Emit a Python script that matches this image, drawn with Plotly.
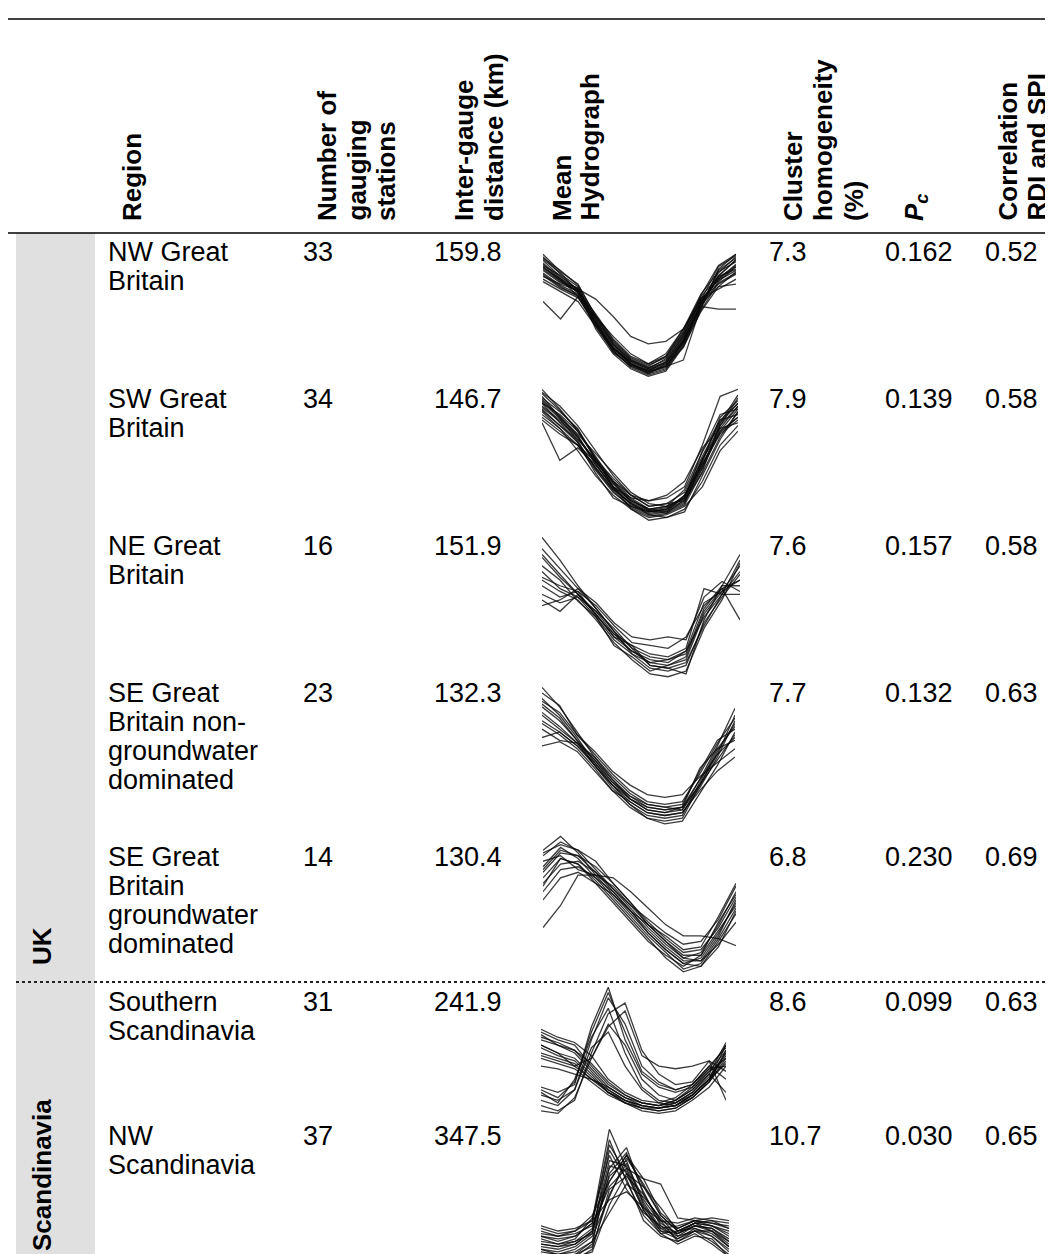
import plotly.graph_objects as go

W, H = 1053, 1254

# ---------------- table data ----------------
regions = [["NW Great", "Britain"],
           ["SW Great", "Britain"],
           ["NE Great", "Britain"],
           ["SE Great", "Britain non-", "groundwater", "dominated"],
           ["SE Great", "Britain", "groundwater", "dominated"],
           ["Southern", "Scandinavia"],
           ["NW", "Scandinavia"]]
n_stations = ["33", "34", "16", "23", "14", "31", "37"]
distance = ["159.8", "146.7", "151.9", "132.3", "130.4", "241.9", "347.5"]
homogeneity = ["7.3", "7.9", "7.6", "7.7", "6.8", "8.6", "10.7"]
pc = ["0.162", "0.139", "0.157", "0.132", "0.230", "0.099", "0.030"]
corr = ["0.52", "0.58", "0.58", "0.63", "0.69", "0.63", "0.65"]
groups = ["UK", "Scandinavia"]
headers = [["Region"], ["Number of", "gauging", "stations"], ["Inter-gauge", "distance (km)"],
           ["Mean", "Hydrograph"], ["Cluster", "homogeneity", "(%)"],
           ["<i>P</i><sub><i>c</i></sub>"], ["Correlation", "RDI and SPI"]]
months = list(range(1, 13))

# ---------------- hydrograph data (relative flow) ----------------
hydro_nw_gb = [
    [0.95, 0.82, 0.72, 0.48, 0.28, 0.14, 0.08, 0.12, 0.32, 0.60, 0.85, 0.98],
    [0.88, 0.78, 0.70, 0.45, 0.25, 0.12, 0.06, 0.14, 0.35, 0.62, 0.80, 0.92],
    [0.92, 0.80, 0.66, 0.42, 0.22, 0.10, 0.05, 0.10, 0.30, 0.58, 0.78, 0.90],
    [0.85, 0.75, 0.68, 0.50, 0.30, 0.16, 0.10, 0.18, 0.38, 0.66, 0.82, 0.88],
    [0.98, 0.84, 0.74, 0.46, 0.26, 0.12, 0.04, 0.08, 0.28, 0.56, 0.88, 1.00],
    [0.80, 0.72, 0.65, 0.44, 0.24, 0.14, 0.08, 0.16, 0.36, 0.64, 0.76, 0.84],
    [0.90, 0.79, 0.70, 0.52, 0.32, 0.18, 0.12, 0.20, 0.40, 0.68, 0.86, 0.94],
    [0.62, 0.48, 0.66, 0.50, 0.34, 0.20, 0.12, 0.18, 0.40, 0.65, 0.72, 0.80],
    [0.90, 0.80, 0.72, 0.64, 0.50, 0.34, 0.28, 0.30, 0.40, 0.62, 0.80, 0.90],
    [0.84, 0.74, 0.66, 0.44, 0.24, 0.12, 0.06, 0.10, 0.15, 0.58, 0.56, 0.56],
    [1.00, 0.86, 0.76, 0.50, 0.28, 0.12, 0.06, 0.10, 0.30, 0.60, 0.82, 0.96],
    [0.82, 0.76, 0.71, 0.40, 0.20, 0.08, 0.02, 0.06, 0.26, 0.54, 0.74, 0.86],
    [0.96, 0.85, 0.70, 0.47, 0.27, 0.15, 0.09, 0.13, 0.33, 0.63, 0.90, 0.99],
    [0.78, 0.70, 0.62, 0.42, 0.22, 0.10, 0.04, 0.12, 0.30, 0.60, 0.74, 0.76],
    [0.93, 0.81, 0.69, 0.44, 0.24, 0.11, 0.05, 0.09, 0.29, 0.57, 0.83, 0.95],
    [0.87, 0.77, 0.73, 0.49, 0.29, 0.15, 0.09, 0.15, 0.34, 0.64, 0.79, 0.87],
    [0.91, 0.83, 0.71, 0.47, 0.23, 0.09, 0.03, 0.07, 0.27, 0.59, 0.87, 0.97],
    [0.83, 0.73, 0.67, 0.43, 0.25, 0.13, 0.07, 0.13, 0.31, 0.61, 0.81, 0.91],
    [0.97, 0.87, 0.75, 0.51, 0.31, 0.17, 0.11, 0.17, 0.37, 0.67, 0.91, 1.00],
    [0.89, 0.79, 0.69, 0.45, 0.21, 0.11, 0.07, 0.11, 0.25, 0.55, 0.77, 0.85],
]
hydro_sw_gb = [
    [0.95, 0.80, 0.66, 0.48, 0.32, 0.20, 0.14, 0.16, 0.22, 0.45, 0.72, 0.88],
    [0.90, 0.76, 0.62, 0.44, 0.28, 0.18, 0.12, 0.14, 0.20, 0.40, 0.66, 0.84],
    [0.85, 0.74, 0.64, 0.50, 0.36, 0.24, 0.16, 0.18, 0.26, 0.52, 0.76, 0.90],
    [1.00, 0.86, 0.70, 0.52, 0.34, 0.22, 0.14, 0.12, 0.18, 0.48, 0.80, 0.92],
    [0.80, 0.70, 0.60, 0.42, 0.26, 0.16, 0.10, 0.12, 0.24, 0.50, 0.70, 0.80],
    [0.92, 0.80, 0.68, 0.54, 0.40, 0.26, 0.18, 0.16, 0.22, 0.56, 0.82, 0.86],
    [0.76, 0.49, 0.58, 0.46, 0.30, 0.20, 0.14, 0.16, 0.28, 0.55, 0.78, 0.82],
    [0.88, 0.78, 0.66, 0.46, 0.30, 0.18, 0.10, 0.08, 0.14, 0.34, 0.60, 0.74],
    [0.82, 0.72, 0.56, 0.38, 0.24, 0.14, 0.08, 0.10, 0.16, 0.30, 0.56, 0.70],
    [0.94, 0.84, 0.72, 0.50, 0.30, 0.22, 0.20, 0.22, 0.30, 0.60, 0.95, 1.00],
    [0.86, 0.74, 0.62, 0.40, 0.22, 0.16, 0.12, 0.14, 0.24, 0.46, 0.68, 0.78],
    [0.98, 0.88, 0.74, 0.56, 0.38, 0.24, 0.16, 0.18, 0.20, 0.44, 0.74, 0.94],
    [0.78, 0.68, 0.60, 0.48, 0.34, 0.24, 0.20, 0.24, 0.34, 0.58, 0.72, 0.76],
    [0.90, 0.82, 0.70, 0.50, 0.30, 0.14, 0.06, 0.08, 0.12, 0.38, 0.64, 0.84],
    [0.93, 0.81, 0.67, 0.47, 0.29, 0.17, 0.11, 0.13, 0.19, 0.43, 0.70, 0.86],
    [0.87, 0.77, 0.65, 0.49, 0.33, 0.21, 0.13, 0.15, 0.23, 0.49, 0.74, 0.88],
    [0.97, 0.85, 0.71, 0.51, 0.33, 0.19, 0.13, 0.11, 0.17, 0.41, 0.76, 0.96],
    [0.84, 0.72, 0.60, 0.44, 0.28, 0.18, 0.12, 0.14, 0.22, 0.50, 0.78, 0.90],
    [0.91, 0.79, 0.63, 0.43, 0.27, 0.15, 0.09, 0.11, 0.21, 0.47, 0.69, 0.80],
]
hydro_ne_gb = [
    [1.00, 0.84, 0.66, 0.50, 0.34, 0.22, 0.16, 0.14, 0.18, 0.50, 0.66, 0.88],
    [0.86, 0.72, 0.60, 0.46, 0.30, 0.20, 0.12, 0.10, 0.14, 0.46, 0.62, 0.80],
    [0.76, 0.64, 0.58, 0.44, 0.28, 0.18, 0.08, 0.06, 0.10, 0.40, 0.58, 0.74],
    [0.66, 0.58, 0.62, 0.52, 0.38, 0.26, 0.24, 0.22, 0.30, 0.52, 0.64, 0.70],
    [0.56, 0.48, 0.60, 0.48, 0.32, 0.24, 0.18, 0.16, 0.22, 0.64, 0.60, 0.60],
    [0.92, 0.78, 0.64, 0.54, 0.40, 0.30, 0.28, 0.30, 0.28, 0.58, 0.69, 0.62],
    [0.70, 0.62, 0.56, 0.42, 0.26, 0.14, 0.04, 0.02, 0.06, 0.36, 0.56, 0.82],
    [0.60, 0.54, 0.58, 0.48, 0.36, 0.22, 0.10, 0.08, 0.04, 0.42, 0.66, 0.66],
    [0.80, 0.70, 0.55, 0.44, 0.24, 0.16, 0.06, 0.10, 0.16, 0.48, 0.64, 0.42],
    [0.72, 0.66, 0.62, 0.45, 0.32, 0.20, 0.14, 0.12, 0.20, 0.44, 0.60, 0.76],
    [0.52, 0.56, 0.64, 0.50, 0.34, 0.18, 0.12, 0.14, 0.20, 0.54, 0.62, 0.70],
    [0.88, 0.74, 0.60, 0.46, 0.30, 0.24, 0.10, 0.08, 0.12, 0.38, 0.60, 0.84],
]
hydro_se_gb_ngw = [
    [1.00, 0.86, 0.68, 0.50, 0.34, 0.22, 0.14, 0.12, 0.14, 0.30, 0.52, 0.80],
    [0.92, 0.80, 0.64, 0.46, 0.30, 0.18, 0.10, 0.08, 0.10, 0.28, 0.50, 0.76],
    [0.86, 0.76, 0.62, 0.48, 0.34, 0.20, 0.12, 0.10, 0.12, 0.34, 0.58, 0.85],
    [0.80, 0.70, 0.60, 0.44, 0.28, 0.16, 0.08, 0.06, 0.08, 0.32, 0.56, 0.72],
    [0.74, 0.66, 0.56, 0.42, 0.26, 0.14, 0.06, 0.04, 0.06, 0.30, 0.48, 0.66],
    [0.96, 0.87, 0.66, 0.54, 0.40, 0.30, 0.23, 0.21, 0.23, 0.36, 0.46, 0.56],
    [0.70, 0.62, 0.60, 0.50, 0.36, 0.24, 0.16, 0.14, 0.16, 0.40, 0.62, 0.70],
    [0.64, 0.68, 0.58, 0.46, 0.32, 0.20, 0.12, 0.10, 0.14, 0.42, 0.56, 0.62],
    [0.58, 0.61, 0.54, 0.40, 0.26, 0.18, 0.10, 0.08, 0.10, 0.26, 0.40, 0.50],
    [0.88, 0.78, 0.62, 0.44, 0.30, 0.16, 0.06, 0.02, 0.04, 0.24, 0.44, 0.68],
    [0.82, 0.72, 0.60, 0.48, 0.32, 0.22, 0.16, 0.14, 0.12, 0.30, 0.54, 0.74],
    [0.90, 0.82, 0.66, 0.52, 0.38, 0.26, 0.18, 0.16, 0.18, 0.38, 0.60, 0.78],
    [0.76, 0.68, 0.58, 0.44, 0.30, 0.20, 0.14, 0.12, 0.14, 0.34, 0.52, 0.64],
]
hydro_se_gb_gw = [
    [0.90, 1.00, 0.88, 0.72, 0.58, 0.44, 0.30, 0.18, 0.08, 0.12, 0.30, 0.52],
    [0.86, 0.96, 0.90, 0.76, 0.62, 0.48, 0.34, 0.22, 0.12, 0.16, 0.36, 0.60],
    [0.78, 0.92, 0.84, 0.70, 0.56, 0.42, 0.28, 0.16, 0.04, 0.08, 0.26, 0.48],
    [0.74, 0.88, 0.86, 0.78, 0.66, 0.52, 0.38, 0.26, 0.16, 0.18, 0.34, 0.56],
    [0.70, 0.84, 0.80, 0.68, 0.54, 0.40, 0.26, 0.12, 0.02, 0.06, 0.24, 0.44],
    [0.66, 0.80, 0.82, 0.74, 0.62, 0.50, 0.40, 0.30, 0.22, 0.24, 0.40, 0.64],
    [0.60, 0.76, 0.78, 0.70, 0.60, 0.46, 0.32, 0.20, 0.10, 0.10, 0.22, 0.38],
    [0.54, 0.70, 0.74, 0.66, 0.58, 0.46, 0.36, 0.28, 0.18, 0.20, 0.42, 0.66],
    [0.34, 0.50, 0.72, 0.72, 0.64, 0.50, 0.36, 0.24, 0.14, 0.14, 0.32, 0.50],
    [0.82, 0.86, 0.76, 0.72, 0.70, 0.60, 0.48, 0.36, 0.28, 0.28, 0.26, 0.21],
    [0.88, 0.94, 0.90, 0.82, 0.66, 0.52, 0.36, 0.24, 0.12, 0.10, 0.28, 0.54],
    [0.76, 0.90, 0.86, 0.74, 0.60, 0.46, 0.30, 0.18, 0.08, 0.06, 0.20, 0.46],
    [0.64, 0.84, 0.80, 0.66, 0.52, 0.38, 0.24, 0.14, 0.06, 0.14, 0.38, 0.58],
]
hydro_s_scand = [
    [0.66, 0.60, 0.56, 0.40, 0.26, 0.18, 0.12, 0.10, 0.12, 0.20, 0.32, 0.50],
    [0.60, 0.56, 0.50, 0.36, 0.22, 0.14, 0.10, 0.08, 0.10, 0.18, 0.30, 0.56],
    [0.56, 0.50, 0.46, 0.34, 0.20, 0.12, 0.08, 0.06, 0.08, 0.16, 0.28, 0.46],
    [0.50, 0.46, 0.42, 0.30, 0.24, 0.16, 0.12, 0.10, 0.14, 0.22, 0.36, 0.52],
    [0.46, 0.42, 0.38, 0.28, 0.18, 0.12, 0.06, 0.04, 0.06, 0.14, 0.24, 0.40],
    [0.40, 0.38, 0.34, 0.30, 0.22, 0.14, 0.10, 0.08, 0.12, 0.20, 0.34, 0.58],
    [0.68, 0.62, 0.58, 0.48, 0.30, 0.20, 0.14, 0.12, 0.16, 0.26, 0.40, 0.54],
    [0.24, 0.20, 0.26, 0.70, 1.00, 0.60, 0.34, 0.24, 0.20, 0.24, 0.36, 0.46],
    [0.18, 0.14, 0.22, 0.60, 0.92, 0.72, 0.40, 0.28, 0.22, 0.26, 0.40, 0.30],
    [0.10, 0.06, 0.14, 0.50, 0.80, 0.88, 0.52, 0.34, 0.26, 0.28, 0.44, 0.14],
    [0.06, 0.04, 0.16, 0.46, 0.72, 0.56, 0.30, 0.18, 0.14, 0.22, 0.34, 0.20],
    [0.20, 0.12, 0.30, 0.62, 0.84, 0.50, 0.24, 0.14, 0.12, 0.18, 0.30, 0.42],
    [0.56, 0.50, 0.40, 0.46, 0.70, 0.82, 0.48, 0.40, 0.38, 0.40, 0.44, 0.36],
    [0.14, 0.10, 0.22, 0.54, 0.66, 0.40, 0.22, 0.12, 0.10, 0.16, 0.28, 0.52],
    [0.62, 0.58, 0.52, 0.38, 0.24, 0.16, 0.10, 0.08, 0.10, 0.18, 0.30, 0.48],
    [0.54, 0.48, 0.44, 0.32, 0.20, 0.14, 0.08, 0.08, 0.10, 0.18, 0.30, 0.50],
    [0.64, 0.56, 0.52, 0.42, 0.28, 0.18, 0.12, 0.10, 0.14, 0.24, 0.38, 0.56],
    [0.48, 0.44, 0.40, 0.30, 0.20, 0.12, 0.08, 0.06, 0.08, 0.16, 0.28, 0.44],
    [0.22, 0.16, 0.28, 0.66, 0.96, 0.66, 0.36, 0.26, 0.22, 0.26, 0.38, 0.40],
]
hydro_nw_scand = [
    [0.24, 0.20, 0.22, 0.30, 1.00, 0.70, 0.40, 0.24, 0.26, 0.30, 0.28, 0.26],
    [0.18, 0.16, 0.18, 0.28, 0.92, 0.60, 0.34, 0.20, 0.22, 0.28, 0.26, 0.22],
    [0.12, 0.10, 0.14, 0.24, 0.70, 0.86, 0.50, 0.30, 0.28, 0.32, 0.30, 0.24],
    [0.08, 0.06, 0.10, 0.20, 0.60, 0.80, 0.62, 0.36, 0.24, 0.30, 0.26, 0.18],
    [0.04, 0.02, 0.04, 0.10, 0.50, 0.74, 0.46, 0.28, 0.20, 0.26, 0.22, 0.12],
    [0.02, 0.00, 0.02, 0.06, 0.42, 0.66, 0.56, 0.40, 0.22, 0.24, 0.18, 0.08],
    [0.14, 0.12, 0.16, 0.32, 0.80, 0.54, 0.36, 0.26, 0.20, 0.26, 0.24, 0.16],
    [0.20, 0.18, 0.20, 0.26, 0.56, 0.70, 0.62, 0.58, 0.32, 0.30, 0.28, 0.24],
    [0.10, 0.08, 0.12, 0.22, 0.64, 0.76, 0.42, 0.22, 0.16, 0.24, 0.20, 0.10],
    [0.06, 0.04, 0.06, 0.14, 0.36, 0.58, 0.48, 0.32, 0.18, 0.22, 0.14, 0.04],
    [0.26, 0.22, 0.24, 0.30, 0.46, 0.52, 0.40, 0.30, 0.24, 0.30, 0.32, 0.30],
    [0.16, 0.12, 0.14, 0.20, 0.84, 0.62, 0.30, 0.18, 0.14, 0.22, 0.22, 0.14],
    [0.00, 0.00, 0.02, 0.12, 0.72, 0.68, 0.38, 0.20, 0.12, 0.18, 0.16, 0.02],
    [0.22, 0.18, 0.22, 0.34, 0.60, 0.80, 0.56, 0.34, 0.22, 0.28, 0.30, 0.28],
    [0.04, 0.02, 0.04, 0.14, 0.66, 0.82, 0.52, 0.26, 0.16, 0.22, 0.18, 0.06],
    [0.12, 0.10, 0.12, 0.22, 0.76, 0.72, 0.44, 0.24, 0.18, 0.26, 0.24, 0.14],
    [0.02, 0.00, 0.00, 0.08, 0.54, 0.64, 0.50, 0.30, 0.14, 0.20, 0.12, 0.02],
    [0.18, 0.14, 0.18, 0.28, 0.88, 0.66, 0.38, 0.22, 0.20, 0.28, 0.26, 0.20],
    [0.08, 0.04, 0.08, 0.18, 0.48, 0.78, 0.58, 0.34, 0.22, 0.28, 0.22, 0.10],
]
hydrographs = [hydro_nw_gb, hydro_sw_gb, hydro_ne_gb, hydro_se_gb_ngw,
               hydro_se_gb_gw, hydro_s_scand, hydro_nw_scand]

# ---------------- layout geometry (pixels) ----------------
TOP_RULE = 11
HEAD_RULE = 225
DOT_RULE = 974
HEAD_BASE = 215
row_top = [233, 380, 527, 674, 838, 983, 1117]
line_pitch = 29
col_x = [98, 293, 424, 759, 875, 975]          # region, n, dist, homog, pc, corr
head_x = [[107], [302, 332, 361], [439, 469], [537, 565], [768, 798, 829], [889], [983, 1012]]
panel_box = [(535, 728, 245, 372), (534, 730, 380, 522), (534, 732, 528, 673),
             (534, 727, 678, 820), (535, 728, 827, 968), (533, 718, 978, 1112),
             (533, 721, 1120, 1253)]
group_x = 17
group_bottom = [959, 1245]

FONT = "Liberation Sans, Arial, sans-serif"
BODY = 27
HEAD = 26


def fx(x):
    return x / W


def fy(y):
    return 1 - y / H


fig = go.Figure()
layout = dict(width=W, height=H, margin=dict(l=0, r=0, t=0, b=0),
              paper_bgcolor="white", plot_bgcolor="rgba(0,0,0,0)",
              showlegend=False)

for i, (lines, (x0, x1, y0, y1)) in enumerate(zip(hydrographs, panel_box), start=1):
    layout[f"xaxis{i}"] = dict(domain=[fx(x0), fx(x1)], range=[1, 12], visible=False,
                               anchor=f"y{i}", fixedrange=True)
    layout[f"yaxis{i}"] = dict(domain=[fy(y1), fy(y0)], range=[-0.01, 1.01], visible=False,
                               anchor=f"x{i}", fixedrange=True)
    for ln in lines:
        fig.add_trace(go.Scatter(x=months, y=ln, mode="lines", xaxis=f"x{i}", yaxis=f"y{i}",
                                 line=dict(color="rgba(10,10,10,0.8)", width=1.3),
                                 hoverinfo="skip"))

shapes = [
    dict(type="rect", xref="paper", yref="paper", x0=fx(8), x1=fx(87), y0=fy(H), y1=fy(HEAD_RULE),
         fillcolor="#e0e0e0", line=dict(width=0), layer="below"),
    dict(type="line", xref="paper", yref="paper", x0=0, x1=1, y0=fy(TOP_RULE), y1=fy(TOP_RULE),
         line=dict(color="black", width=1.5)),
    dict(type="line", xref="paper", yref="paper", x0=0, x1=1, y0=fy(HEAD_RULE), y1=fy(HEAD_RULE),
         line=dict(color="black", width=1.5)),
    dict(type="line", xref="paper", yref="paper", x0=fx(8), x1=1, y0=fy(DOT_RULE), y1=fy(DOT_RULE),
         line=dict(color="#222222", width=2, dash="dot")),
]

ann = []
# header (one rotated annotation per text line)
for lines_txt, xs in zip(headers, head_x):
    for txt, hx in zip(lines_txt, xs):
        ann.append(dict(text=f"<b>{txt}</b>", x=fx(hx), y=fy(HEAD_BASE), xref="paper", yref="paper",
                        xanchor="left", yanchor="bottom", textangle=-90,
                        showarrow=False, font=dict(family=FONT, size=HEAD, color="black")))
# body
for r in range(len(regions)):
    for k, part in enumerate(regions[r]):
        ann.append(dict(text=part, x=fx(col_x[0]), y=fy(row_top[r] - 6 + k * line_pitch),
                        xref="paper", yref="paper", xanchor="left", yanchor="top",
                        showarrow=False, font=dict(family=FONT, size=BODY, color="black")))
    for c, vals in enumerate([n_stations, distance, homogeneity, pc, corr], start=1):
        ann.append(dict(text=vals[r], x=fx(col_x[c]), y=fy(row_top[r] - 6),
                        xref="paper", yref="paper", xanchor="left", yanchor="top",
                        showarrow=False, font=dict(family=FONT, size=BODY, color="black")))
# groups
for g, gb in zip(groups, group_bottom):
    ann.append(dict(text=f"<b>{g}</b>", x=fx(group_x), y=fy(gb), xref="paper", yref="paper",
                    xanchor="left", yanchor="bottom", textangle=-90, showarrow=False,
                    font=dict(family=FONT, size=HEAD, color="black")))

layout["shapes"] = shapes
layout["annotations"] = ann
fig.update_layout(**layout)
fig.write_html("out.html")
